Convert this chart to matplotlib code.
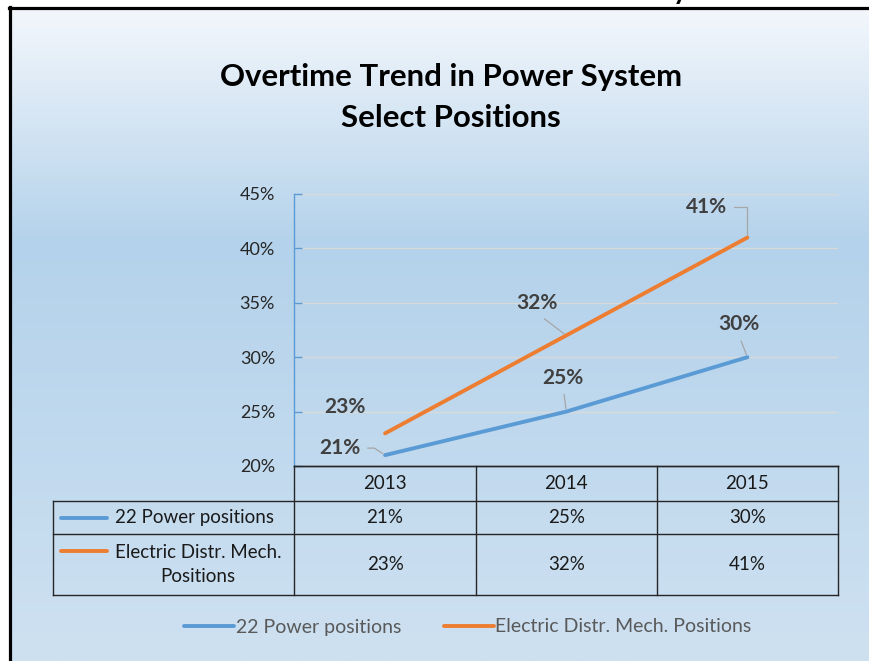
import matplotlib
matplotlib.use('Agg')
import matplotlib.pyplot as plt
import numpy as np
from matplotlib.lines import Line2D
from matplotlib.colors import LinearSegmentedColormap

# ---------------- data ----------------
years = ['2013', '2014', '2015']
power = [0.21, 0.25, 0.30]
electric = [0.23, 0.32, 0.41]
series_names = ['22 Power positions', 'Electric Distr. Mech. Positions']
table_row_labels = ['22 Power positions', 'Electric Distr. Mech.\nPositions']
yticks = [0.20, 0.25, 0.30, 0.35, 0.40, 0.45]
title = 'Overtime Trend in Power System\nSelect Positions'

# ---------------- style ----------------
BLUE = '#5b9bd5'
ORANGE = '#ed7d31'
LABEL_C = '#404040'
W, H = 870, 661
plt.rcParams['font.family'] = ['Lato', 'DejaVu Sans']

fig = plt.figure(figsize=(W / 100, H / 100), dpi=100)
fig.patch.set_facecolor('white')


def fx(x):
    return x / W


def fy(y):
    return 1 - y / H


def rect(l, t, r, b):
    return [fx(l), fy(b), (r - l) / W, (b - t) / H]


# background gradient
bg = fig.add_axes(rect(10, 8, W, H), zorder=-10)
cmap = LinearSegmentedColormap.from_list(
    'bg', [(0, '#f3f7fc'), (0.36, '#b4d2eb'), (1, '#cee1f1')])
grad = np.linspace(0, 1, 256).reshape(-1, 1)
bg.imshow(grad, aspect='auto', cmap=cmap, extent=[0, 1, 1, 0])
bg.axis('off')

# border lines
fig.add_artist(Line2D([fx(9), 1], [fy(7.5), fy(7.5)], color='black', lw=2.3))
fig.add_artist(Line2D([fx(10.5), fx(10.5)], [fy(7), 0], color='black', lw=2.3))
# clipped descender from text above
fig.text(fx(680), fy(-1.5), 'y', fontsize=20, fontweight='bold', ha='center',
         va='baseline', color='black')

# title
fig.text(fx(451), fy(97.5), title, ha='center', va='center', fontsize=22.4,
         fontweight='bold', color='black', linespacing=1.55)

# ---------------- main axes ----------------
ax = fig.add_axes(rect(294.5, 194, 838, 466))
ax.patch.set_alpha(0)
x = np.arange(len(years))
ax.plot(x, power, color=BLUE, lw=2.8, solid_capstyle='round', zorder=3)
ax.plot(x, electric, color=ORANGE, lw=2.8, solid_capstyle='round', zorder=3)
ax.set_xlim(-0.5, len(years) - 0.5)
ax.set_ylim(yticks[0], yticks[-1])
ax.set_yticks(yticks)
ax.set_yticklabels([f'{int(round(v * 100))}%' for v in yticks])
ax.set_xticks([])
ax.yaxis.grid(True, color='#d9d9d9', lw=1.0)
ax.set_axisbelow(True)
for s in ['top', 'right']:
    ax.spines[s].set_visible(False)
ax.spines['left'].set_color(BLUE)
ax.spines['left'].set_linewidth(1.0)
ax.spines['bottom'].set_color('#262626')
ax.spines['bottom'].set_linewidth(1.0)
ax.tick_params(axis='y', direction='in', length=5.5, width=1, color=BLUE,
               labelsize=13, labelcolor='#262626', pad=14)

# data labels (offsets in px: dx, dy-up), leader style
lab_pt = 0.72
power_off = [(-45, 7), (-3, 34), (-9, 33)]
elec_off = [(-40, 26), (-29, 32), (-41, 31)]
power_lead = [dict(relpos=(1, 0.5), connectionstyle='angle,angleA=0,angleB=147,rad=0'),
              dict(relpos=(0.5, 0)), dict(relpos=(0.5, 0))]
elec_lead = [None, dict(relpos=(0.5, 0)),
             dict(relpos=(1, 0.5), connectionstyle='angle,angleA=0,angleB=90,rad=0')]


def label_series(vals, offs, leads):
    for i, v in enumerate(vals):
        dx, dy = offs[i]
        ap = None
        if leads[i] is not None:
            ap = dict(arrowstyle='-', color='#a6a6a6', lw=0.9, shrinkA=3, shrinkB=2)
            ap.update(leads[i])
        ax.annotate(f'{int(round(v * 100))}%', xy=(i, v),
                    xytext=(dx * lab_pt, dy * lab_pt), textcoords='offset points',
                    ha='center', va='center', fontsize=15, fontweight='bold',
                    color=LABEL_C, arrowprops=ap, annotation_clip=False, zorder=4)


label_series(power, power_off, power_lead)
label_series(electric, elec_off, elec_lead)

# ---------------- data table ----------------
fig.canvas.draw()
col_cx = [ax.transData.transform((i, 0))[0] for i in range(len(years))]
tab = fig.add_axes([0, 0, 1, 1], zorder=2)
tab.set_xlim(0, W)
tab.set_ylim(H, 0)
tab.axis('off')
tab.patch.set_alpha(0)

L, C0, R = 53, 294.5, 838
col_w = (R - C0) / len(years)
rows_y = [466, 501, 534, 595]
lc = '#262626'
tlw = 1.0
# horizontals
tab.plot([C0, R], [rows_y[0]] * 2, color=lc, lw=tlw)
for yy in rows_y[1:]:
    tab.plot([L, R], [yy] * 2, color=lc, lw=tlw)
# verticals
tab.plot([L, L], [rows_y[1], rows_y[-1]], color=lc, lw=tlw)
for k in range(len(years) + 1):
    xx = C0 + k * col_w
    tab.plot([xx, xx], [rows_y[0], rows_y[-1]], color=lc, lw=tlw)

txt_kw = dict(ha='center', va='center', fontsize=13.5, color='#1a1a1a')
for i, yr in enumerate(years):
    tab.text(col_cx[i], (rows_y[0] + rows_y[1]) / 2, yr, **txt_kw)
for r, vals in enumerate([power, electric]):
    yc = (rows_y[r + 1] + rows_y[r + 2]) / 2
    for i, v in enumerate(vals):
        tab.text(col_cx[i], yc, f'{int(round(v * 100))}%', **txt_kw)

# row header keys + labels
tab.plot([61, 107], [517.5, 517.5], color=BLUE, lw=2.8, solid_capstyle='round')
tab.text(195, 517.5, table_row_labels[0], **txt_kw)
tab.plot([61, 107], [551, 551], color=ORANGE, lw=2.8, solid_capstyle='round')
tab.text(198, 564.5, table_row_labels[1], multialignment='center', linespacing=1.5,
         **txt_kw)

# ---------------- legend ----------------
handles = [Line2D([], [], color=BLUE, lw=2.8, solid_capstyle='round'),
           Line2D([], [], color=ORANGE, lw=2.8, solid_capstyle='round')]
fig.legend(handles, series_names, loc='center', bbox_to_anchor=(fx(468), fy(627)),
           ncol=2, frameon=False, fontsize=14, handlelength=2.55,
           handletextpad=0.1, columnspacing=2.2, labelcolor='#595959')

fig.savefig('out.png', dpi=100)
